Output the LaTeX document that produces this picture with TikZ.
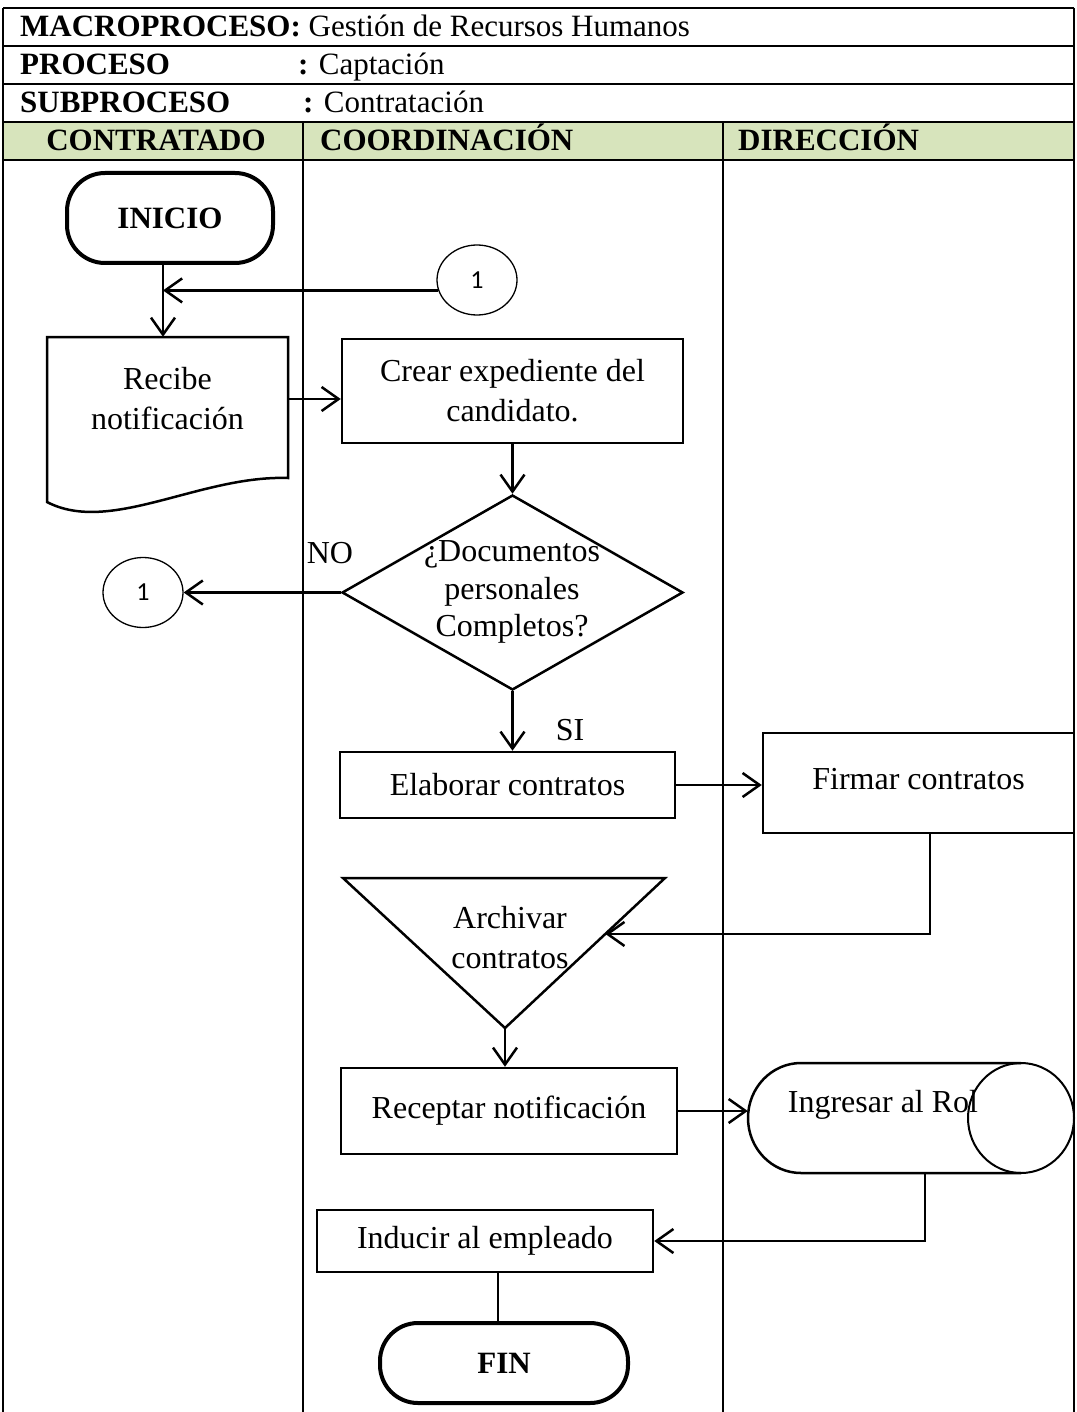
\documentclass[tikz,border=0pt]{standalone}
\usepackage{fontspec}
\setmainfont{Liberation Serif}
\newfontfamily\circfont{Carlito}
\usetikzlibrary{arrows.meta,shapes.geometric,calc}

\definecolor{headgreen}{RGB}{215,228,188}

\tikzset{
  flecha/.style={-{Straight Barb[length=17pt,width=24pt]}, line width=2.5pt},
  caja/.style={draw, line width=2.5pt, inner sep=0pt, align=center},
  term/.style={draw, line width=4pt, rounded corners=38pt, inner sep=0pt,
    font=\fontsize{31}{36}\selectfont\bfseries},
  conec/.style={draw, ellipse, line width=1.3pt, minimum width=80pt,
    minimum height=70pt, inner sep=0pt, font=\circfont\fontsize{26}{30}\selectfont},
  linea/.style={line width=2pt},
  cab/.style={anchor=base west, inner sep=0pt, font=\fontsize{31}{36}\selectfont}
}

\begin{document}
\begin{tikzpicture}[x=1pt,y=-1pt,font=\fontsize{32}{40}\selectfont]
\useasboundingbox (0,0) rectangle (1076,1412);

% tabla
\fill[headgreen] (3,122) rectangle (1074,160);
\draw[linea] (3,8) -- (1074,8);
\draw[linea] (3,46) -- (1074,46);
\draw[linea] (3,84) -- (1074,84);
\draw[linea] (3,122) -- (1074,122);
\draw[linea] (3,160) -- (1074,160);
\draw[linea] (3,8) -- (3,1412);
\draw[linea] (1074,8) -- (1074,1412);
\draw[linea] (303,122) -- (303,1412);
\draw[linea] (723,122) -- (723,1412);

\node[cab] (macro) at (20,37) {\textbf{MACROPROCESO:} Gestión de Recursos Humanos};
\node[cab] (proc) at (20,75) {\textbf{PROCESO}};
\node[cab] (proctxt) at (298,75) {\textbf{:} Captación};
\node[cab] (subp) at (20,113) {\textbf{SUBPROCESO}};
\node[cab] (subptxt) at (303,113) {\textbf{:} Contratación};
\node[cab, anchor=base, font=\fontsize{31}{36}\selectfont\bfseries] (contratado) at (156,151) {CONTRATADO};
\node[cab, font=\fontsize{31}{36}\selectfont\bfseries] (coord) at (320,151) {COORDINACIÓN};
\node[cab, font=\fontsize{31}{36}\selectfont\bfseries] (direc) at (738,151) {DIRECCIÓN};

% nodos
\node[term, minimum width=206, minimum height=90] (inicio) at (170,218) {INICIO};
\node[conec] (con1) at (477,280) {1};

\node[minimum width=241, minimum height=124, inner sep=0pt, align=center] (recibe) at (167.5,399) {Recibe\\notificación};
\draw[line width=2.5pt] (47,337) -- (288,337) -- (288,478)
  .. controls (200,475) and (110,535) .. (47,502) -- cycle;

\node[caja, minimum width=341, minimum height=104] (crear) at (512.5,391) {Crear expediente del\\candidato.};

\node[draw, diamond, line width=2.5pt, minimum width=341, minimum height=195, inner sep=0pt] (docs) at (512.5,592.5) {};
\node[align=center, font=\fontsize{32}{37.5}\selectfont] (docstxt) at (512,592) {¿Documentos\\personales\\Completos?};
\node (no) at (330,553) {NO};
\node[conec] (con2) at (143,592.5) {1};
\node (si) at (570,730) {SI};

\node[caja, minimum width=335, minimum height=66] (elab) at (507.5,785) {Elaborar contratos};
\node[caja, minimum width=311, minimum height=100] (firmar) at (918.5,783) {\raisebox{9pt}{Firmar contratos}};

\coordinate (arch-a) at (343,878);
\coordinate (arch-b) at (665,878);
\coordinate (arch-c) at (505,1028);
\draw[line width=2.5pt] (arch-a) -- (arch-b) -- (arch-c) -- cycle;
\node[align=center] (archivar) at (510,938) {Archivar\\contratos};
\coordinate (arch-in) at ($(arch-b)!0.373!(arch-c)$);

\node[caja, minimum width=336, minimum height=86] (recep) at (509,1111) {\raisebox{8pt}{Receptar notificación}};

\node[minimum width=326, minimum height=110, inner sep=0pt] (rol) at (911,1118) {};
\draw[line width=2.5pt] (1021,1063) -- (801,1063)
  arc[start angle=270, end angle=90, x radius=53, y radius=55] -- (1021,1173);
\draw[line width=2pt] (1021,1118) ellipse [x radius=53, y radius=55];
\node (roltxt) at (883,1105) {Ingresar al Rol};

\node[caja, minimum width=336, minimum height=62] (induc) at (485,1241) {Inducir al empleado};
\node[term, minimum width=248, minimum height=80] (fin) at (504,1363) {FIN};

% conectores
\coordinate (lx) at (163,0);
\coordinate (fx) at (930,0);
\coordinate (rx) at (925,0);
\coordinate (cx) at (498,0);

\draw[line width=2.5pt] (inicio.south -| lx) -- (con1.195 -| lx);
\draw[flecha] (con1.195) -- (con1.195 -| lx);
\draw[flecha] (con1.195 -| lx) -- (recibe.north -| lx);
\draw[flecha] (recibe.east) -- (recibe.east -| crear.west);
\draw[flecha] (crear.south) -- (docs.north);
\draw[flecha] (docs.west) -- (con2.east);
\draw[flecha] (docs.south) -- (docs.south |- elab.north);
\draw[flecha] (elab.east) -- (elab.east -| firmar.west);
\draw[flecha] (firmar.south -| fx) |- (arch-in);
\draw[flecha] (arch-c) -- (arch-c |- recep.north);
\draw[flecha] (recep.east) -- (recep.east -| rol.west);
\draw[flecha] (rol.south -| rx) |- (induc.east);
\draw[line width=2.5pt] (induc.south -| cx) -- (fin.north -| cx);

\end{tikzpicture}
\end{document}
